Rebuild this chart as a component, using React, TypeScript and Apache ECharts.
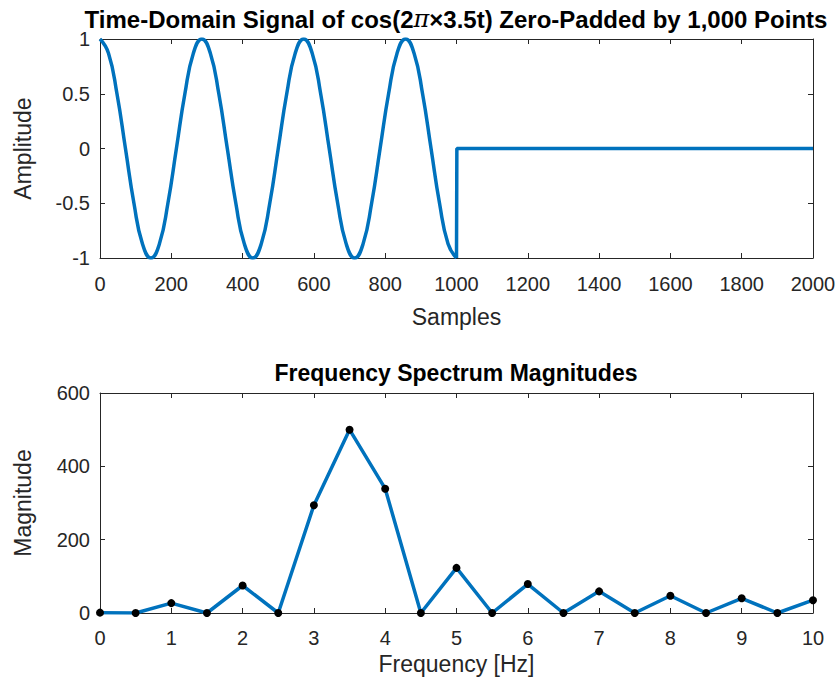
import React, { useEffect, useRef } from "react";
import * as echarts from "echarts";

// Time-domain signal (peaks/troughs/crossings at 30° steps)
const sampleX = [
  0, 23.8, 47.6, 71.4, 95.2, 119.0, 142.9, 166.7, 190.5, 214.3, 238.1, 261.9,
  285.7, 309.5, 333.3, 357.1, 381.0, 404.8, 428.6, 452.4, 476.2, 500.0, 523.8, 547.6,
  571.4, 595.2, 619.0, 642.9, 666.7, 690.5, 714.3, 738.1, 761.9, 785.7, 809.5, 833.3,
  857.1, 881.0, 904.8, 928.6, 952.4, 976.2, 1000,
];
const amplitude = [
  1, 0.87, 0.5, 0, -0.5, -0.87, -1, -0.87, -0.5, 0, 0.5, 0.87,
  1, 0.87, 0.5, 0, -0.5, -0.87, -1, -0.87, -0.5, 0, 0.5, 0.87,
  1, 0.87, 0.5, 0, -0.5, -0.87, -1, -0.87, -0.5, 0, 0.5, 0.87,
  1, 0.87, 0.5, 0, -0.5, -0.87, -1,
];
const padX = [1000, 1001, 2000];
const padAmplitude = [-1, 0, 0];

// Frequency spectrum
const freqHz = [0, 0.5, 1, 1.5, 2, 2.5, 3, 3.5, 4, 4.5, 5, 5.5, 6, 6.5, 7, 7.5, 8, 8.5, 9, 9.5, 10];
const magnitude = [1, 0, 27, 0, 75, 0, 294, 500, 339, 0, 123, 0, 79, 0, 59, 0, 47, 0, 40, 0, 35];

const titleTop = "Time-Domain Signal of cos(2{pi|π}×3.5t) Zero-Padded by 1,000 Points";
const titleBottom = "Frequency Spectrum Magnitudes";

const FONT = "'Liberation Sans', Arial, Helvetica, sans-serif";
const AXIS = "#262626";
const LINE = "#0072BD";

export default function App() {
  const ref = useRef<HTMLDivElement>(null);
  useEffect(() => {
    if (!ref.current) return;
    const chart = echarts.init(ref.current, undefined, { renderer: "svg" });

    const tick = { show: true, inside: true, length: 5, lineStyle: { color: AXIS, width: 1 } };
    const line = { show: true, onZero: false, lineStyle: { color: AXIS, width: 1 } };
    const label = { color: AXIS, fontSize: 20, fontFamily: FONT, formatter: (v: number) => String(v) };
    const nameStyle = { color: AXIS, fontSize: 23, fontFamily: FONT };

    const base = (grid: number, min: number, max: number, interval: number) => ({
      type: "value", gridIndex: grid, min, max, interval,
      axisLine: line, axisTick: tick, splitLine: { show: false },
    });

    const option: any = {
      animation: false,
      backgroundColor: "#ffffff",
      textStyle: { fontFamily: FONT },
      grid: [
        { left: 100, right: 26, top: 39, height: 219 },
        { left: 100, right: 26, top: 393, height: 220 },
      ],
      xAxis: [
        { ...base(0, 0, 2000, 200), position: "bottom", axisLabel: { ...label, margin: 16 },
          name: "Samples", nameLocation: "middle", nameGap: 47, nameTextStyle: nameStyle },
        { ...base(0, 0, 2000, 200), position: "top", axisLabel: { show: false } },
        { ...base(1, 0, 10, 1), position: "bottom", axisLabel: { ...label, margin: 15 },
          name: "Frequency [Hz]", nameLocation: "middle", nameGap: 39, nameTextStyle: nameStyle },
        { ...base(1, 0, 10, 1), position: "top", axisLabel: { show: false } },
      ],
      yAxis: [
        { ...base(0, -1, 1, 0.5), position: "left", axisLabel: { ...label, margin: 10 },
          name: "Amplitude", nameLocation: "middle", nameGap: 66, nameTextStyle: nameStyle },
        { ...base(0, -1, 1, 0.5), position: "right", axisLabel: { show: false } },
        { ...base(1, 0, 600, 200), position: "left", axisLabel: { ...label, margin: 10 },
          name: "Magnitude", nameLocation: "middle", nameGap: 66, nameTextStyle: nameStyle },
        { ...base(1, 0, 600, 200), position: "right", axisLabel: { show: false } },
      ],
      graphic: [
        {
          type: "text", x: 456, y: 19,
          style: {
            text: titleTop, x: 0, y: 0, align: "center", verticalAlign: "middle",
            fill: "#000", font: `bold 24px ${FONT}`,
            rich: { pi: { fontStyle: "italic", fontWeight: "normal", fontSize: 24, fontFamily: "'DejaVu Serif', serif", fill: "#000" } },
          },
        },
        {
          type: "text", x: 456, y: 373,
          style: { text: titleBottom, x: 0, y: 0, align: "center", verticalAlign: "middle", fill: "#000", font: `bold 23px ${FONT}` },
        },
      ],
      series: [
        {
          type: "line", xAxisIndex: 0, yAxisIndex: 0, smooth: true, showSymbol: false,
          data: sampleX.map((x, i) => [x, amplitude[i]]),
          lineStyle: { color: LINE, width: 3.5 }, itemStyle: { color: LINE },
        },
        {
          type: "line", xAxisIndex: 0, yAxisIndex: 0, showSymbol: false,
          data: padX.map((x, i) => [x, padAmplitude[i]]),
          lineStyle: { color: LINE, width: 3.5 }, itemStyle: { color: LINE },
        },
        {
          type: "line", xAxisIndex: 2, yAxisIndex: 2, symbol: "circle", symbolSize: 8, showSymbol: true,
          data: freqHz.map((x, i) => [x, magnitude[i]]),
          lineStyle: { color: LINE, width: 3.5 }, itemStyle: { color: "#000" },
        },
      ],
    };
    chart.setOption(option);
    return () => chart.dispose();
  }, []);

  return <div ref={ref} style={{ position: "absolute", left: 0, top: 0, width: 839, height: 687 }} />;
}
